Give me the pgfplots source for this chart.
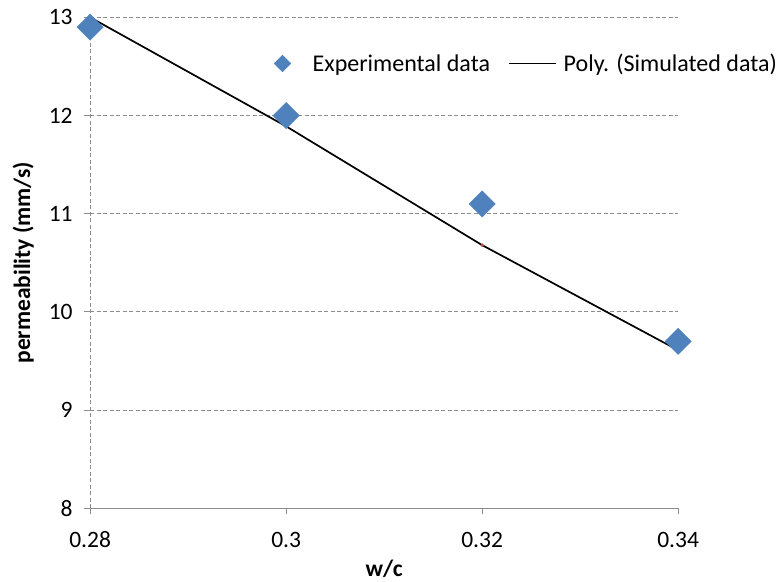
\documentclass[border=0pt]{standalone}
\usepackage{pgfplots}
\pgfplotsset{compat=1.18}
\usepackage{fontspec}
\setmainfont{Carlito}
\definecolor{expblue}{HTML}{4F81BD}
\definecolor{gridgray}{HTML}{8C8C8C}
\definecolor{simred}{HTML}{C0504D}
\begin{document}
\begin{tikzpicture}[x=1pt,y=1pt]
\useasboundingbox (0,0) rectangle (779,581);
\begin{axis}[
  at={(92,74)}, anchor=south west,
  width=588pt, height=491pt, scale only axis,
  xmin=0.28, xmax=0.34, ymin=8, ymax=13,
  xtick={0.28,0.30,0.32,0.34},
  xticklabels={0.28,0.3,0.32,0.34},
  ytick={8,9,10,11,12,13},
  axis x line=bottom, axis y line=left,
  x axis line style={-, gridgray, line width=1pt},
  y axis line style={-, gridgray, dash pattern=on 4pt off 2.5pt, line width=0.9pt},
  ymajorgrids,
  major grid style={gridgray, dash pattern=on 4pt off 2.5pt, line width=0.9pt},
  xtick style={gridgray, line width=1pt},
  ytick style={gridgray, line width=0.9pt},
  x tick label style={font=\fontsize{23.5}{28}\selectfont, yshift=-14pt},
  y tick label style={font=\fontsize{23.5}{28}\selectfont, xshift=-8pt},
  tick align=outside,
  major tick length=6pt,
  /pgf/number format/assume math mode=true,
  xlabel={\textbf{w/c}},
  ylabel={\textbf{permeability (mm/s)}},
  xlabel style={font=\fontsize{23.5}{28}\selectfont, yshift=-5pt},
  ylabel style={font=\fontsize{23.5}{28}\selectfont, yshift=8pt},
  clip=false,
  legend style={draw=none, fill=none, at={(0.306,0.906)}, anchor=west,
    font=\fontsize{24}{28}\selectfont, column sep=0pt, inner sep=0pt,
    nodes={inner sep=2pt}},
  legend columns=2,
  legend cell align=left,
]
\addplot[simred, only marks, mark=*, mark size=1.5pt, forget plot]
  coordinates {(0.28,13.0) (0.30,11.89) (0.32,10.68) (0.34,9.61)};
\addplot[only marks, mark=square*, mark size=9.3pt, mark options={rotate=45, fill=expblue, draw=expblue},
  legend image code/.code={\path (0,-1pt) (40pt,1pt);
    \fill[expblue] (12pt,0) +(-8.3pt,0) -- +(0,8.3pt) -- +(8.3pt,0) -- +(0,-8.3pt) -- cycle;}]
  coordinates {(0.28,12.9) (0.30,12.0) (0.32,11.1) (0.34,9.7)};
\addlegendentry{Experimental data}
\addplot[black, line width=1.7pt, no marks,
  legend image code/.code={\path (-16pt,-1pt) (52pt,1pt);
    \draw[black, line width=1.7pt] (0,0) -- (47pt,0);}]
  coordinates {(0.28,13.0) (0.30,11.89) (0.32,10.68) (0.34,9.61)};
\addlegendentry{Poly. (Simulated data)}
\end{axis}
\end{tikzpicture}
\end{document}
